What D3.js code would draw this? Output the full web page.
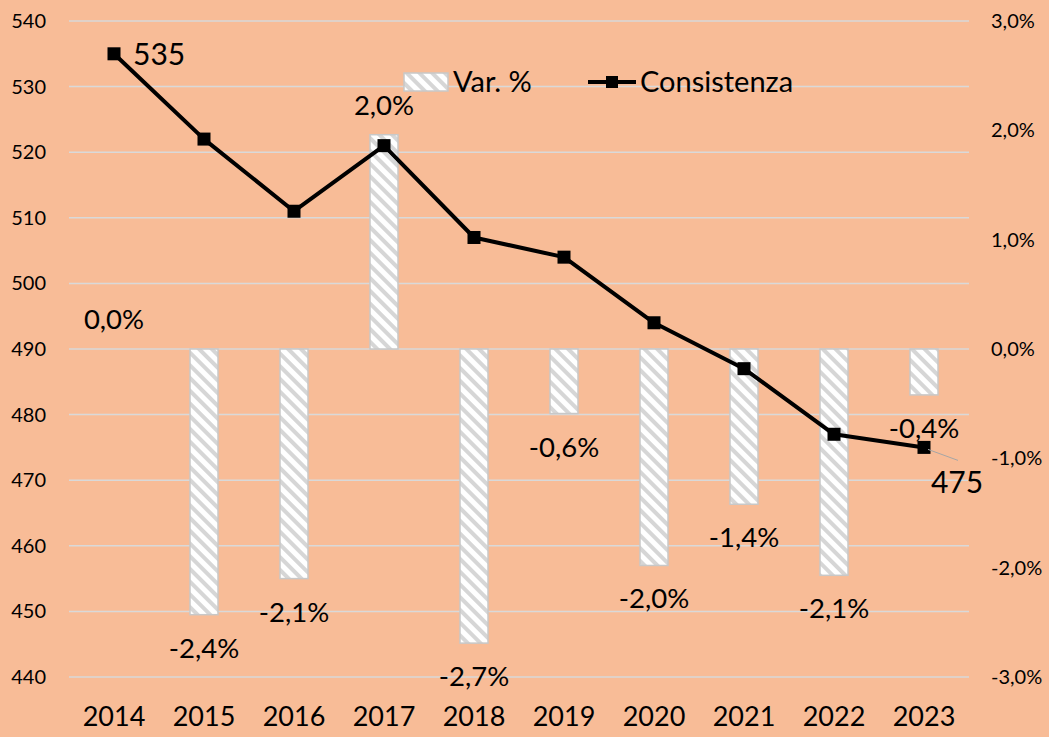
<!DOCTYPE html>
<html>
<head>
<meta charset="utf-8">
<script src="https://cdn.jsdelivr.net/npm/d3@7"></script>
<style>
  body { margin: 0; background: #F8BC97; }
  text { font-family: Lato, "Open Sans", sans-serif; fill: #000; }
</style>
</head>
<body>
<div id="chart"></div>
<script>
const years = ['2014', '2015', '2016', '2017', '2018', '2019', '2020', '2021', '2022', '2023']
const consistenza = [535, 522, 511, 521, 507, 504, 494, 487, 477, 475]
const varPct = [0.0, -2.43, -2.1, 1.96, -2.69, -0.59, -1.98, -1.42, -2.07, -0.42]
const leftTicks = [440, 450, 460, 470, 480, 490, 500, 510, 520, 530, 540]
const rightTicks = [-3, -2, -1, 0, 1, 2, 3]

const W = 1049, H = 737
const plot = { left: 69, right: 969, top: 21, bottom: 677 }
// italian style: comma decimal, plain hyphen for minus
const fmtPct = v => d3.format('.1f')(v).replace('.', ',').replace('\u2212', '-') + '%'

const svg = d3.select('#chart')
    .append('svg')
    .attr('width', W)
    .attr('height', H)

svg.append('rect').attr('width', W).attr('height', H).attr('fill', '#F8BC97')

// hatch pattern for the bars
const defs = svg.append('defs')
const pat = defs.append('pattern')
    .attr('id', 'hatch')
    .attr('patternUnits', 'userSpaceOnUse')
    .attr('width', 9).attr('height', 9)
    .attr('patternTransform', 'rotate(-45)')
pat.append('rect').attr('width', 9).attr('height', 9).attr('fill', '#fff')
pat.append('rect').attr('width', 4).attr('height', 9).attr('fill', '#D6D6D6')

const xScale = d3.scaleBand().domain(years).range([plot.left, plot.right])
const yScale = d3.scaleLinear().domain([440, 540]).range([plot.bottom, plot.top])
const y2Scale = d3.scaleLinear().domain([-3, 3]).range([plot.bottom, plot.top])
const cx = d => xScale(d) + xScale.bandwidth() / 2

// gridlines
svg.append('g')
    .selectAll('line')
    .data(leftTicks)
    .join('line')
    .attr('x1', plot.left).attr('x2', plot.right)
    .attr('y1', d => yScale(d)).attr('y2', d => yScale(d))
    .attr('stroke', '#D9D9D9')
    .attr('stroke-width', 1.5)

// left axis
const yaxis = d3.axisLeft(yScale).tickValues(leftTicks).tickSize(0).tickPadding(23)
svg.append('g')
    .attr('transform', `translate(${plot.left},0)`)
    .call(yaxis)
    .call(g => g.select('.domain').remove())
    .selectAll('text')
    .style('font-size', '20px')

// right axis
const y2axis = d3.axisRight(y2Scale).tickValues(rightTicks).tickSize(0)
    .tickFormat(fmtPct).tickPadding(22)
svg.append('g')
    .attr('transform', `translate(${plot.right},0)`)
    .call(y2axis)
    .call(g => g.select('.domain').remove())
    .selectAll('text')
    .style('font-size', '20px')

// x axis
const xaxis = d3.axisBottom(xScale).tickSize(0).tickPadding(30)
svg.append('g')
    .attr('transform', `translate(0,${plot.bottom})`)
    .call(xaxis)
    .call(g => g.select('.domain').remove())
    .selectAll('text')
    .style('font-size', '27px')

// bars
const barW = 28
const barData = years.map((y, i) => ({ year: y, v: varPct[i] }))
svg.append('g')
    .selectAll('rect')
    .data(barData)
    .join('rect')
    .attr('x', d => cx(d.year) - barW / 2)
    .attr('width', barW)
    .attr('y', d => y2Scale(Math.max(0, d.v)))
    .attr('height', d => Math.abs(y2Scale(d.v) - y2Scale(0)))
    .attr('fill', 'url(#hatch)')
    .attr('stroke', d => d.v === 0 ? 'none' : '#C8C8C8')
    .attr('stroke-width', 1.5)

// bar labels
svg.append('g')
    .selectAll('text')
    .data(barData)
    .join('text')
    .attr('x', d => cx(d.year))
    .attr('y', d => d.v >= 0 ? y2Scale(d.v) - 20 : y2Scale(d.v) + 43)
    .attr('text-anchor', 'middle')
    .style('font-size', '27.5px')
    .text(d => fmtPct(d.v))

// line
const line = d3.line()
    .x((d, i) => cx(years[i]))
    .y(d => yScale(d))
svg.append('path')
    .datum(consistenza)
    .attr('d', line)
    .attr('fill', 'none')
    .attr('stroke', '#000')
    .attr('stroke-width', 4)
    .attr('stroke-linejoin', 'round')

svg.append('g')
    .selectAll('rect')
    .data(consistenza)
    .join('rect')
    .attr('x', (d, i) => cx(years[i]) - 6.5)
    .attr('y', d => yScale(d) - 6.5)
    .attr('width', 13).attr('height', 13)
    .attr('fill', '#000')

// first / last value labels
const first = consistenza[0], last = consistenza[consistenza.length - 1]
svg.append('text')
    .attr('x', cx(years[0]) + 19)
    .attr('y', yScale(first) + 11)
    .style('font-size', '30px')
    .text(first)
svg.append('line')
    .attr('x1', cx(years[9]) + 4).attr('y1', yScale(last) + 2)
    .attr('x2', cx(years[9]) + 34).attr('y2', yScale(last) + 13)
    .attr('stroke', '#A6A6A6')
    .attr('stroke-width', 1)
svg.append('text')
    .attr('x', cx(years[9]) + 33)
    .attr('y', yScale(last) + 46)
    .attr('text-anchor', 'middle')
    .style('font-size', '30px')
    .text(last)

// legend
const leg = svg.append('g')
leg.append('rect')
    .attr('x', 404).attr('y', 73).attr('width', 44).attr('height', 18)
    .attr('fill', 'url(#hatch)')
    .attr('stroke', '#C8C8C8').attr('stroke-width', 1.5)
leg.append('text')
    .attr('x', 453).attr('y', 92)
    .style('font-size', '29px')
    .text('Var. %')
leg.append('line')
    .attr('x1', 588).attr('x2', 636).attr('y1', 82).attr('y2', 82)
    .attr('stroke', '#000').attr('stroke-width', 4)
leg.append('rect')
    .attr('x', 606).attr('y', 76).attr('width', 12).attr('height', 12)
    .attr('fill', '#000')
leg.append('text')
    .attr('x', 640).attr('y', 92)
    .style('font-size', '29px')
    .text('Consistenza')
</script>
</body>
</html>
